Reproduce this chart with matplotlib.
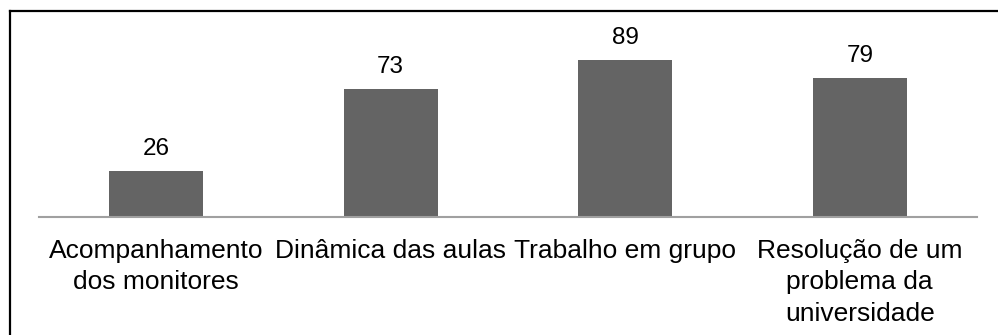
import matplotlib.pyplot as plt
from matplotlib.lines import Line2D

categorias = ['Acompanhamento\ndos monitores', 'Dinâmica das aulas',
              'Trabalho em grupo', 'Resolução de um\nproblema da\nuniversidade']
valores = [26, 73, 89, 79]

plt.rcParams['font.family'] = ['Liberation Sans', 'DejaVu Sans']

fig = plt.figure(figsize=(9.98, 3.35), dpi=100)
ax = fig.add_axes([39/998, (335-217)/335, (977-39)/998, (217-25)/335])

x = range(len(valores))
ax.bar(x, valores, width=0.4, color='#646464')
ax.set_xlim(-0.5, len(valores) - 0.5)
ax.set_ylim(0, (217-25)/1.76)

for xi, v in zip(x, valores):
    ax.annotate(str(v), (xi, v), xytext=(0, 11.5), textcoords='offset points',
                ha='center', va='baseline', fontsize=17.5, color='black')

ax.set_xticks(list(x))
ax.set_xticklabels(categorias, fontsize=19, linespacing=1.38)
ax.tick_params(axis='x', length=0, pad=16)
ax.set_yticks([])
for s in ['top', 'right', 'left']:
    ax.spines[s].set_visible(False)
ax.spines['bottom'].set_color('#a0a0a0')
ax.spines['bottom'].set_linewidth(1.5)

# borda preta (cortada a direita e embaixo)
fig.add_artist(Line2D([10/998, 10/998], [0, 1 - 11/335], color='black', lw=1.6,
                      transform=fig.transFigure))
fig.add_artist(Line2D([10/998, 1], [1 - 11/335, 1 - 11/335], color='black', lw=1.6,
                      transform=fig.transFigure))

fig.savefig('out.png', dpi=100)
